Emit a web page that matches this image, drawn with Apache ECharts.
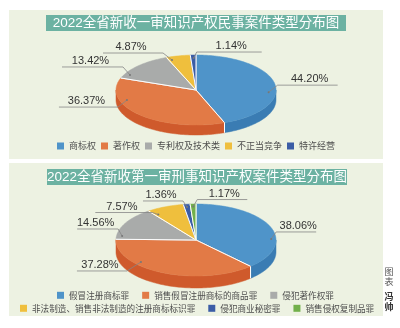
<!DOCTYPE html>
<html><head><meta charset="utf-8">
<script src="https://cdn.jsdelivr.net/npm/echarts@6/dist/echarts.min.js"></script>
<style>html,body{margin:0;padding:0;background:#fff}#c{width:400px;height:328px}</style>
</head><body><div id="c"></div>
<script>
// ---------- data ----------
const civilTitle = '2022全省新收一审知识产权民事案件类型分布图';
const civilNames = ['商标权', '著作权', '专利权及技术类', '不正当竞争', '特许经营'];
const civilValues = [44.20, 36.37, 13.42, 4.87, 1.14];

const criminalTitle = '2022全省新收第一审刑事知识产权案件类型分布图';
const criminalNames = ['假冒注册商标罪', '销售假冒注册商标的商品罪', '侵犯著作权罪',
  '非法制造、销售非法制造的注册商标标识罪', '侵犯商业秘密罪', '销售侵权复制品罪'];
const criminalValues = [38.06, 37.28, 14.56, 7.57, 1.36, 1.17];

const creditLabel = '图表';
const creditName = '冯帅';

// ---------- styles / layout ----------
const FONT = '"Liberation Sans", "Noto Sans CJK SC", sans-serif';
const CJK = '"Noto Sans CJK SC", sans-serif';
const civilGeom = {cx: 196, cy: 90, rx: 80, ry: 35, depth: 10};
const criminalGeom = {cx: 196, cy: 240, rx: 80, ry: 36, depth: 12};
const civilColors = [['#4f94c9', '#3a7cb3'], ['#e27a46', '#cf5a2c'], ['#a9abaa', '#8e9090'], ['#efbf3d', '#d8a62a'], ['#3b5da6', '#2c4a8a']];
const criminalColors = [['#4f94c9', '#3a7cb3'], ['#e27a46', '#cf5a2c'], ['#a9abaa', '#8e9090'], ['#efbf3d', '#d8a62a'], ['#3b5da6', '#2c4a8a'], ['#72b04b', '#5a9439']];
const civilLabelLayout = [
  {frac: 0.59, r: 0.91, dx: 9, dy: -7, len: 60},
  {frac: 0.706, r: 0.91, dx: -9, dy: 7, len: 59},
  {frac: 0.154, r: 0.93, dx: -7, dy: -8, len: 61},
  {frac: 0.134, r: 0.908, dx: -9, dy: -7, len: 60},
  {frac: 0.56, r: 0.914, dx: 3, dy: -6, len: 65}
];
const criminalLabelLayout = [
  {frac: 0.644, r: 0.94, dx: 5, dy: -7, len: 40},
  {frac: 0.681, r: 0.92, dx: -14, dy: 9, len: 50},
  {frac: 0.108, r: 0.93, dx: -4, dy: -7, len: 41},
  {frac: 0.1, r: 0.85, dx: -6, dy: -2, len: 57},
  {frac: 0.43, r: 0.924, dx: -4, dy: -6, len: 40},
  {frac: 0.5, r: 0.93, dx: 4, dy: -7, len: 50}
];

// ---------- geometry helpers ----------
function angles(values, i) {
  const total = values.reduce((a, b) => a + b, 0);
  let before = 0;
  for (let k = 0; k < i; k++) before += values[k];
  const a0 = 90 - before / total * 360;
  const a1 = a0 - values[i] / total * 360;
  return [a0, a1];
}
function pt(g, t, r, dy) {
  const rad = t * Math.PI / 180;
  return [g.cx + r * g.rx * Math.cos(rad), g.cy - r * g.ry * Math.sin(rad) + (dy || 0)];
}
function arc(g, from, to, dy) {
  const n = Math.max(2, Math.ceil(Math.abs(from - to) / 1.5));
  const pts = [];
  for (let j = 0; j <= n; j++) pts.push(pt(g, from + (to - from) * j / n, 1, dy));
  return pts;
}

function sliceSeries(values, names, colors, geom, i) {
  return {
    type: 'custom', name: names[i], coordinateSystem: 'none', silent: true, animation: false,
    itemStyle: {color: colors[i][0]},
    data: [[values[i]]],
    renderItem: function (params, api) {
      const [a0, a1] = angles(values, i);
      const children = [];
      const s0 = Math.min(a0, 0), s1 = Math.max(a1, -180);
      if (s0 > s1) {
        const top = arc(geom, s0, s1, 0);
        const bot = arc(geom, s1, s0, geom.depth);
        children.push({type: 'polygon', shape: {points: top.concat(bot)},
          style: {fill: colors[i][1], stroke: colors[i][1], lineWidth: 0.5}});
        [a0, a1].forEach(a => {
          if (a < 0 && a > -180) {
            const p = pt(geom, a, 1, 0);
            children.push({type: 'line', shape: {x1: p[0], y1: p[1], x2: p[0], y2: p[1] + geom.depth},
              style: {stroke: '#ffffff', lineWidth: 1}});
          }
        });
      }
      const face = [[geom.cx, geom.cy]].concat(arc(geom, a0, a1, 0));
      children.push({type: 'polygon', shape: {points: face},
        style: {fill: colors[i][0], stroke: colors[i][0], lineWidth: 0.5}});
      [a0, a1].forEach(a => {
        const p = pt(geom, a, 1, 0);
        children.push({type: 'line', shape: {x1: geom.cx, y1: geom.cy, x2: p[0], y2: p[1]},
          style: {stroke: '#ffffff', lineWidth: 1}});
      });
      return {type: 'group', children: children};
    }
  };
}

function labelSeries(values, geom, layout, id) {
  return {
    type: 'custom', name: id, coordinateSystem: 'none', silent: true, animation: false, z: 5,
    data: values.map(v => [v]),
    renderItem: function (params, api) {
      const i = params.dataIndex;
      const L = layout[i];
      const [a0, a1] = angles(values, i);
      const t = a0 - L.frac * (a0 - a1);
      const A = pt(geom, t, L.r, 0);
      const E = [A[0] + L.dx, A[1] + L.dy];
      const dir = L.dx >= 0 ? 1 : -1;
      const F = [E[0] + dir * L.len, E[1]];
      const tx = (E[0] + F[0]) / 2 + dir * 2;
      return {type: 'group', children: [
        {type: 'polyline', shape: {points: [A, E, F]}, style: {stroke: '#858585', lineWidth: 0.8, fill: null}},
        {type: 'circle', shape: {cx: A[0], cy: A[1], r: 1}, style: {fill: '#777777'}},
        {type: 'text', style: {text: api.value(0).toFixed(2) + '%', x: tx, y: E[1] - 0.5,
          align: 'center', verticalAlign: 'bottom', fontSize: 11, fontFamily: FONT, fill: '#333333'}}
      ]};
    }
  };
}

const series = [];
civilValues.forEach((v, i) => series.push(sliceSeries(civilValues, civilNames, civilColors, civilGeom, i)));
criminalValues.forEach((v, i) => series.push(sliceSeries(criminalValues, criminalNames, criminalColors, criminalGeom, i)));
series.push(labelSeries(civilValues, civilGeom, civilLabelLayout, 'civilLabels'));
series.push(labelSeries(criminalValues, criminalGeom, criminalLabelLayout, 'criminalLabels'));

const legendBase = {icon: 'rect', itemWidth: 7, itemHeight: 7, padding: 0, selectedMode: false,
  textStyle: {color: '#4d4d4d', fontFamily: CJK}};

const option = {
  animation: false,
  backgroundColor: '#ffffff',
  graphic: [
    {type: 'rect', shape: {x: 9, y: 10, width: 374, height: 149}, style: {fill: '#edf2e2'}},
    {type: 'rect', shape: {x: 9, y: 163, width: 374, height: 153}, style: {fill: '#edf2e2'}},
    {type: 'rect', shape: {x: 46, y: 15, width: 300, height: 16}, style: {fill: '#6cb2a2'}},
    {type: 'rect', shape: {x: 47, y: 169, width: 300, height: 16}, style: {fill: '#6cb2a2'}},
    {type: 'text', x: 196, y: 23.5, style: {text: civilTitle, align: 'center', verticalAlign: 'middle',
      fill: '#ffffff', fontSize: 13.5, fontFamily: FONT}},
    {type: 'text', x: 197, y: 177.5, style: {text: criminalTitle, align: 'center', verticalAlign: 'middle',
      fill: '#ffffff', fontSize: 13.5, fontFamily: FONT}},
    {type: 'text', x: 389, y: 276.5, style: {text: creditLabel.split('').join('\n'), align: 'center', verticalAlign: 'middle',
      fill: '#555555', fontSize: 9, lineHeight: 10, fontFamily: CJK}},
    {type: 'text', x: 389, y: 301.5, style: {text: creditName.split('').join('\n'), align: 'center', verticalAlign: 'middle',
      fill: '#333333', fontSize: 9, lineHeight: 10, fontWeight: 'bold', fontFamily: CJK}}
  ],
  legend: [
    Object.assign({}, legendBase, {data: civilNames, left: 57, top: 141.5, itemGap: 5,
      textStyle: Object.assign({}, legendBase.textStyle, {fontSize: 9})}),
    Object.assign({}, legendBase, {data: criminalNames.slice(0, 3), left: 57, top: 291, itemGap: 13,
      textStyle: Object.assign({}, legendBase.textStyle, {fontSize: 8.6})}),
    Object.assign({}, legendBase, {data: criminalNames.slice(3), left: 20, top: 304, itemGap: 13,
      textStyle: Object.assign({}, legendBase.textStyle, {fontSize: 8.6})})
  ],
  series: series
};

const chart = echarts.init(document.getElementById('c'), null, {renderer: 'canvas'});
chart.setOption(option);
</script>
</body></html>
